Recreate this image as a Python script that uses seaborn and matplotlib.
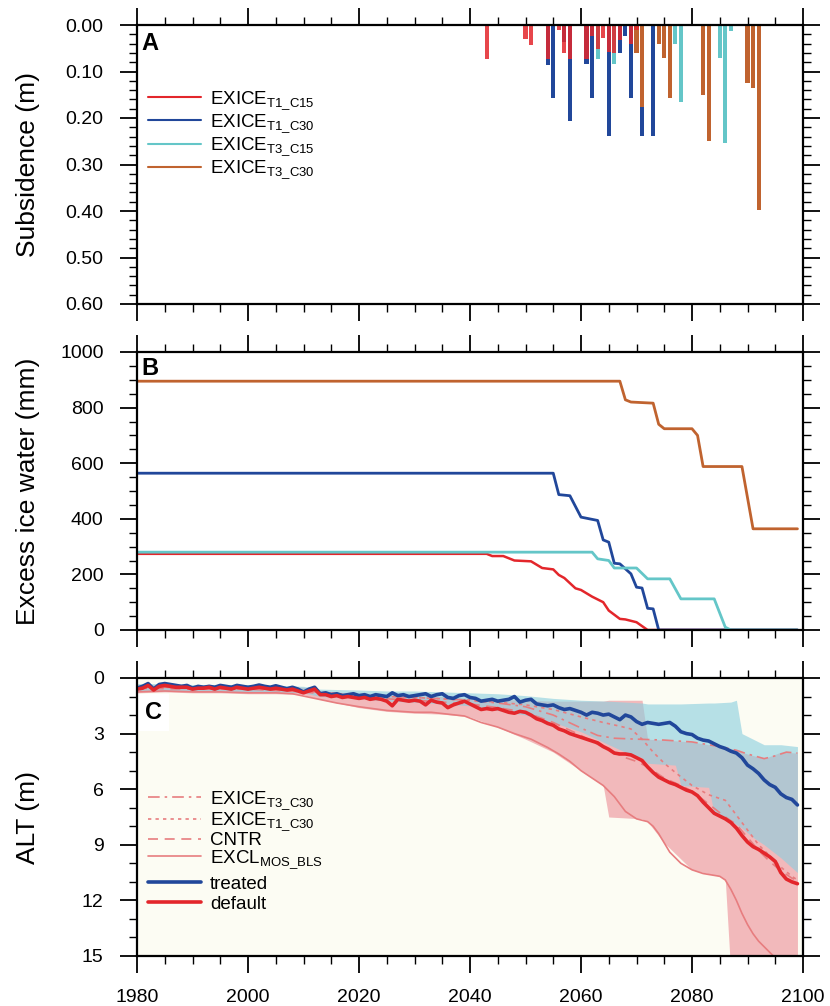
import numpy as np
import pandas as pd
import matplotlib
matplotlib.use("Agg")
import matplotlib.pyplot as plt
from matplotlib.lines import Line2D
from matplotlib.ticker import MultipleLocator, FormatStrFormatter
import seaborn as sns

sns.set_style("ticks")
plt.rcParams['font.family'] = ['Liberation Sans', 'DejaVu Sans']
plt.rcParams['mathtext.fontset'] = 'custom'
plt.rcParams['mathtext.rm'] = 'Liberation Sans'
plt.rcParams['mathtext.it'] = 'Liberation Sans'
for key in ['text.color', 'axes.labelcolor', 'xtick.color', 'ytick.color', 'axes.edgecolor']:
    plt.rcParams[key] = 'black'

RED = '#e3262b'
BLUE = '#21479a'
CYAN = '#64c6c8'
BROWN = '#c0632f'
PINK = '#e77d7f'

# ---- panel A: subsidence events (m) ----
sub_t1c15_years = [2043, 2050, 2051, 2054, 2056, 2057, 2058, 2061, 2062, 2063, 2064, 2065, 2066, 2067, 2069, 2070]
sub_t1c15 = [0.074, 0.031, 0.042, 0.074, 0.011, 0.061, 0.074, 0.074, 0.024, 0.052, 0.027, 0.059, 0.061, 0.033, 0.040, 0.011]
sub_t1c30_years = [2054, 2055, 2057, 2058, 2061, 2062, 2065, 2067, 2068, 2069, 2071, 2073]
sub_t1c30 = [0.085, 0.156, 0.036, 0.206, 0.083, 0.158, 0.238, 0.061, 0.024, 0.156, 0.238, 0.238]
sub_t3c15_years = [2063, 2066, 2071, 2077, 2078, 2085, 2086, 2087]
sub_t3c15 = [0.074, 0.083, 0.125, 0.040, 0.165, 0.072, 0.253, 0.013]
sub_t3c30_years = [2070, 2071, 2074, 2075, 2076, 2082, 2083, 2090, 2091, 2092]
sub_t3c30 = [0.061, 0.176, 0.041, 0.070, 0.156, 0.151, 0.249, 0.124, 0.136, 0.398]

# ---- panel B: excess ice water (mm) ----
ice_t1c15_years = [1980, 2043, 2044, 2046, 2048, 2051, 2053, 2055, 2056, 2057, 2059, 2060, 2062, 2064, 2065, 2067, 2068, 2070, 2072, 2099]
ice_t1c15 = [274, 274, 266, 266, 250, 247, 223, 218, 198, 187, 150, 144, 120, 100, 70, 40, 38, 28, 0, 0]
ice_t1c30_years = [1980, 2055, 2056, 2058, 2060, 2061, 2063, 2064, 2065, 2066, 2067, 2069, 2070, 2071, 2072, 2073, 2074, 2099]
ice_t1c30 = [564, 564, 487, 483, 406, 402, 394, 324, 316, 240, 238, 202, 154, 151, 78, 76, 0, 0]
ice_t3c15_years = [1980, 2062, 2063, 2065, 2066, 2070, 2072, 2076, 2078, 2084, 2086, 2087, 2099]
ice_t3c15 = [280, 280, 256, 250, 223, 223, 184, 184, 112, 112, 10, 0, 0]
ice_t3c30_years = [1980, 2067, 2068, 2069, 2073, 2074, 2075, 2080, 2081, 2082, 2089, 2091, 2099]
ice_t3c30 = [895, 895, 828, 820, 816, 740, 724, 724, 700, 588, 588, 364, 364]

# ---- panel C: active layer thickness (m) ----
alt_years = list(range(1980, 2100))
alt_treated = [0.55, 0.45, 0.3, 0.6, 0.35, 0.3, 0.35, 0.4, 0.45, 0.4,
               0.55, 0.45, 0.5, 0.45, 0.5, 0.4, 0.45, 0.5, 0.4, 0.45,
               0.5, 0.45, 0.38, 0.45, 0.5, 0.42, 0.5, 0.58, 0.5, 0.6,
               0.76, 0.6, 0.5, 0.85, 0.8, 0.9, 0.85, 0.95, 0.9, 0.85,
               0.95, 0.9, 1.0, 0.9, 0.95, 1.0, 0.8, 0.95, 0.9, 1.0,
               0.95, 0.9, 0.85, 1.0, 0.9, 0.85, 1.05, 1.1, 0.95, 0.9,
               1.05, 1.1, 1.25, 1.2, 1.15, 1.25, 1.2, 1.15, 1.0, 1.3,
               1.2, 1.15, 1.4, 1.45, 1.5, 1.45, 1.6, 1.7, 1.65, 1.75,
               1.85, 2.0, 1.85, 1.9, 2.0, 1.95, 2.1, 2.25, 2.0, 2.1,
               2.35, 2.5, 2.4, 2.45, 2.5, 2.45, 2.4, 2.6, 2.9, 3.0,
               3.05, 3.25, 3.35, 3.4, 3.55, 3.7, 3.8, 3.95, 4.05, 4.3,
               4.7, 4.9, 5.15, 5.5, 5.75, 5.9, 6.25, 6.45, 6.55, 6.85]
alt_default = [0.6, 0.55, 0.4, 0.65, 0.45, 0.4, 0.45, 0.5, 0.5, 0.5,
               0.6, 0.55, 0.55, 0.5, 0.6, 0.5, 0.55, 0.6, 0.5, 0.55,
               0.6, 0.55, 0.5, 0.55, 0.6, 0.55, 0.6, 0.65, 0.6, 0.7,
               0.8, 0.7, 0.6, 0.9, 0.9, 1.0, 0.95, 1.05, 1.0, 1.05,
               1.1, 1.05, 1.15, 1.1, 1.15, 1.25, 1.5, 1.15, 1.2, 1.25,
               1.2, 1.25, 1.45, 1.2, 1.3, 1.35, 1.6, 1.45, 1.35, 1.25,
               1.4, 1.55, 1.7, 1.65, 1.7, 1.65, 1.75, 1.85, 1.9, 1.8,
               1.85, 2.0, 2.2, 2.3, 2.45, 2.55, 2.75, 2.85, 3.0, 3.1,
               3.2, 3.3, 3.4, 3.5, 3.7, 3.85, 4.05, 4.1, 4.1, 4.15,
               4.3, 4.45, 4.8, 5.1, 5.35, 5.5, 5.65, 5.75, 5.9, 6.05,
               6.15, 6.35, 6.7, 7.0, 7.3, 7.45, 7.6, 7.8, 8.1, 8.5,
               8.85, 9.1, 9.25, 9.45, 9.65, 9.9, 10.5, 10.85, 11.0, 11.1]

excl_years = [1980, 1985, 1990, 1995, 2000, 2005, 2008, 2012, 2016, 2020, 2025, 2030, 2033, 2036, 2039,
              2042, 2045, 2048, 2051, 2054, 2056, 2058, 2060, 2062, 2064, 2066, 2068, 2070, 2072, 2073,
              2074, 2075, 2076, 2078, 2080, 2082, 2084, 2085, 2086, 2087, 2088, 2089, 2090, 2091, 2092,
              2093, 2094, 2095, 2096]
excl = [0.75, 0.7, 0.75, 0.75, 0.8, 0.8, 0.85, 1.1, 1.35, 1.55, 1.75, 1.85, 1.85, 1.95, 2.05,
        2.4, 2.65, 3.0, 3.3, 3.75, 4.1, 4.5, 5.0, 5.4, 5.8, 6.4, 7.2, 7.6, 7.75, 8.0,
        8.4, 8.9, 9.4, 10.0, 10.35, 10.55, 10.65, 10.7, 10.9, 11.4, 12.0, 12.7, 13.3, 13.8, 14.2,
        14.5, 14.8, 15.1, 15.4]
cntr_years = [1980, 1990, 2000, 2010, 2020, 2030, 2040, 2045, 2050, 2055, 2060, 2065, 2068, 2070,
              2072, 2075, 2078, 2080, 2083, 2086, 2088, 2090, 2092, 2094, 2096, 2098, 2099]
cntr = [0.55, 0.6, 0.6, 0.75, 1.05, 1.2, 1.4, 1.6, 1.85, 2.4, 3.1, 3.9, 4.3, 4.5,
        4.8, 5.4, 5.8, 6.1, 6.8, 7.5, 7.9, 8.6, 9.3, 9.9, 10.4, 10.8, 10.95]
t1c30_years = [1980, 1990, 2000, 2010, 2020, 2030, 2040, 2045, 2050, 2055, 2060, 2064, 2067, 2069,
               2071, 2073, 2075, 2077, 2080, 2083, 2086, 2088, 2090, 2092, 2094, 2096, 2098, 2099]
t1c30 = [0.5, 0.5, 0.55, 0.7, 0.95, 1.05, 1.2, 1.3, 1.45, 1.7, 2.1, 2.4, 2.6, 2.75,
         3.3, 4.0, 4.6, 5.1, 5.8, 6.3, 6.6, 7.4, 8.2, 9.0, 9.6, 10.2, 10.7, 10.9]
t3c30_years = [1980, 1990, 2000, 2010, 2020, 2030, 2040, 2045, 2050, 2055, 2060, 2063, 2066, 2070,
               2075, 2080, 2085, 2088, 2090, 2093, 2095, 2097, 2099]
t3c30 = [0.5, 0.5, 0.55, 0.7, 0.95, 1.05, 1.2, 1.35, 1.55, 2.0, 2.7, 3.1, 3.25, 3.3,
         3.35, 3.45, 3.7, 3.9, 4.1, 4.35, 4.2, 4.0, 4.05]

# spread of default runs
red_years = [1980, 1985, 1990, 1995, 2000, 2005, 2010, 2013, 2020, 2025, 2030, 2035, 2040, 2045, 2050,
             2055, 2060, 2064, 2065, 2071, 2072, 2075, 2080, 2085, 2086, 2087, 2090, 2093, 2096, 2099]
red_top = [0.35, 0.35, 0.4, 0.4, 0.45, 0.45, 0.5, 0.7, 0.85, 0.9, 0.95, 1.0, 1.1, 1.15, 1.2,
           1.25, 1.25, 1.25, 1.2, 1.2, 3.3, 3.35, 3.45, 3.7, 3.75, 3.8, 4.1, 4.35, 4.0, 4.05]
red_bot = [0.8, 0.75, 0.8, 0.8, 0.85, 0.85, 0.9, 1.15, 1.6, 1.8, 1.9, 1.95, 2.1, 2.65, 3.3,
           4.0, 5.0, 5.8, 7.5, 7.6, 7.75, 8.9, 10.35, 10.7, 10.9, 16, 16, 16, 16, 16]
# spread of treated runs
blue_years = [1980, 1985, 1990, 1995, 2000, 2005, 2010, 2013, 2020, 2025, 2030, 2035, 2040, 2045, 2050,
              2055, 2060, 2065, 2068, 2071, 2072, 2077, 2078, 2083, 2084, 2087, 2088, 2089, 2091, 2093,
              2096, 2099]
blue_top = [0.3, 0.3, 0.35, 0.35, 0.35, 0.4, 0.45, 0.6, 0.65, 0.7, 0.7, 0.75, 0.8, 0.85, 0.95,
            1.1, 1.2, 1.25, 1.3, 1.35, 1.4, 1.4, 1.4, 1.35, 1.35, 1.3, 1.2, 3.0, 3.3, 3.6,
            3.6, 3.7]
blue_bot = [0.7, 0.7, 0.7, 0.7, 0.75, 0.75, 0.8, 1.0, 1.1, 1.25, 1.3, 1.4, 1.5, 1.75, 2.0,
            2.4, 2.9, 3.6, 4.0, 4.3, 4.6, 4.7, 5.8, 5.9, 7.3, 7.7, 7.9, 8.1, 8.6, 9.0,
            9.7, 10.5]

fig = plt.figure(figsize=(8.3, 10.06), dpi=100)
L, W = 137 / 830, 666 / 830
axA = fig.add_axes([L, 1 - 304 / 1006, W, 279 / 1006])
axB = fig.add_axes([L, 1 - 630 / 1006, W, 278 / 1006])
axC = fig.add_axes([L, 1 - 956 / 1006, W, 278 / 1006])


def style_axis(ax):
    ax.set_xlim(1980, 2100)
    ax.xaxis.set_major_locator(MultipleLocator(20))
    ax.xaxis.set_minor_locator(MultipleLocator(5))
    ax.tick_params(which='both', direction='out', top=True, right=True,
                   bottom=True, left=True, width=1.3, labelsize=14, pad=12)
    ax.tick_params(which='major', length=12)
    ax.tick_params(which='minor', length=6, width=1.0)
    for s in ax.spines.values():
        s.set_linewidth(1.6)
        s.set_visible(True)
    ax.set_xlabel('')


# ---- A ----
for yrs, vals, c in [(sub_t1c30_years, sub_t1c30, BLUE), (sub_t3c15_years, sub_t3c15, CYAN),
                     (sub_t3c30_years, sub_t3c30, BROWN), (sub_t1c15_years, sub_t1c15, RED)]:
    axA.bar(yrs, vals, width=0.75, color=c, alpha=0.85 if c == RED else 1.0, lw=0)
style_axis(axA)
axA.set_ylim(0.6, 0.0)
axA.yaxis.set_major_locator(MultipleLocator(0.1))
axA.yaxis.set_minor_locator(MultipleLocator(0.02))
axA.yaxis.set_major_formatter(FormatStrFormatter('%.2f'))
axA.tick_params(labelbottom=False)
axA.set_ylabel('Subsidence (m)', fontsize=19)
axA.yaxis.set_label_coords(-0.145, 0.5)
axA.text(0.006, 0.935, 'A', transform=axA.transAxes, fontsize=17, fontweight='bold', va='center')
hA = [Line2D([], [], color=c, lw=1.5) for c in [RED, BLUE, CYAN, BROWN]]
labA = [r'EXICE$_{\rm T1\_C15}$', r'EXICE$_{\rm T1\_C30}$', r'EXICE$_{\rm T3\_C15}$', r'EXICE$_{\rm T3\_C30}$']
axA.legend(hA, labA, loc='upper left', bbox_to_anchor=(0.0, 0.81), frameon=False, fontsize=13.5,
           handlelength=2.8, handletextpad=0.5, labelspacing=0.05, borderaxespad=0.2)

# ---- B ----
for yrs, vals, c, lw in [(ice_t3c30_years, ice_t3c30, BROWN, 2.0), (ice_t1c15_years, ice_t1c15, RED, 1.8),
                         (ice_t1c30_years, ice_t1c30, BLUE, 2.0), (ice_t3c15_years, ice_t3c15, CYAN, 2.0)]:
    sns.lineplot(x=yrs, y=vals, color=c, linewidth=lw, ax=axB)
style_axis(axB)
axB.set_ylim(0, 1000)
axB.yaxis.set_major_locator(MultipleLocator(200))
axB.yaxis.set_minor_locator(MultipleLocator(50))
axB.tick_params(labelbottom=False)
axB.set_ylabel('Excess ice water (mm)', fontsize=19)
axB.yaxis.set_label_coords(-0.145, 0.5)
axB.text(0.006, 0.94, 'B', transform=axB.transAxes, fontsize=17, fontweight='bold', va='center')

# ---- C ----
axC.set_facecolor('#fcfcf3')
axC.fill_between(red_years, red_top, red_bot, color='#f2b9bb', lw=0, zorder=1)
axC.fill_between(blue_years, blue_top, blue_bot, color='#8ccfdf', alpha=0.62, lw=0, zorder=1.1)
sns.lineplot(x=excl_years, y=excl, color=PINK, linewidth=1.2, ax=axC)
sns.lineplot(x=cntr_years, y=cntr, color=PINK, linewidth=1.2, linestyle=(0, (6, 4)), ax=axC)
sns.lineplot(x=t1c30_years, y=t1c30, color=PINK, linewidth=1.2, linestyle=(0, (2, 2.5)), ax=axC)
sns.lineplot(x=t3c30_years, y=t3c30, color=PINK, linewidth=1.2, linestyle=(0, (7, 3, 1.5, 3)), ax=axC)
sns.lineplot(x=alt_years, y=alt_treated, color=BLUE, linewidth=2.6, ax=axC)
sns.lineplot(x=alt_years, y=alt_default, color=RED, linewidth=2.6, ax=axC)
style_axis(axC)
axC.set_ylim(15, 0)
axC.yaxis.set_major_locator(MultipleLocator(3))
axC.yaxis.set_minor_locator(MultipleLocator(1))
axC.set_ylabel('ALT (m)', fontsize=19)
axC.yaxis.set_label_coords(-0.145, 0.5)
axC.text(0.012, 0.875, 'C', transform=axC.transAxes, fontsize=17, fontweight='bold', va='center',
         zorder=2, bbox=dict(facecolor='white', edgecolor='none', pad=5))
hC = [Line2D([], [], color=PINK, lw=1.2, ls=(0, (7, 3, 1.5, 3))),
      Line2D([], [], color=PINK, lw=1.2, ls=(0, (2, 2.5))),
      Line2D([], [], color=PINK, lw=1.2, ls=(0, (6, 4))),
      Line2D([], [], color=PINK, lw=1.2)]
labC = [r'EXICE$_{\rm T3\_C30}$', r'EXICE$_{\rm T1\_C30}$', 'CNTR', r'EXCL$_{\rm MOS\_BLS}$']
legC = axC.legend(hC, labC, loc='upper left', bbox_to_anchor=(0.0, 0.64), frameon=False, fontsize=13.5,
                  handlelength=2.8, handletextpad=0.5, labelspacing=-0.05, borderaxespad=0.2)
axC.add_artist(legC)
hC2 = [Line2D([], [], color=BLUE, lw=2.6), Line2D([], [], color=RED, lw=2.6)]
axC.legend(hC2, ['treated', 'default'], loc='upper left', bbox_to_anchor=(0.0, 0.33), frameon=False,
           fontsize=13.5, handlelength=2.8, handletextpad=0.5, labelspacing=0.15, borderaxespad=0.2)

fig.savefig('out.png', dpi=100)
